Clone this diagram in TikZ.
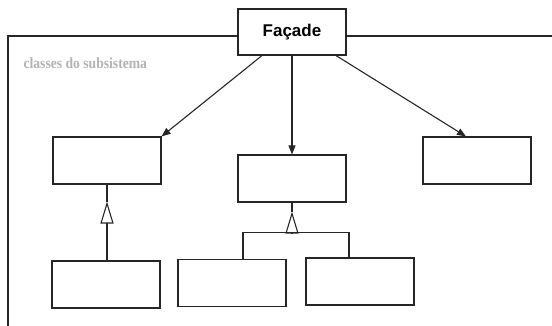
\documentclass[tikz,border=0pt]{standalone}
\usepackage{fontspec}
\setmainfont{Liberation Serif}
\newfontfamily\boxfont{Liberation Sans}
\newfontfamily\pkgfont[FakeStretch=0.88]{Liberation Serif}
\usetikzlibrary{arrows.meta,calc,positioning}

\tikzset{
  klass/.style={draw=black!85,line width=1.1pt,fill=white,minimum width=108pt,minimum height=47pt,inner sep=0pt},
  link/.style={draw=black!85,line width=1.1pt},
  assoc/.style={link,-{Triangle[length=9pt,width=7pt]}},
  gen/.style={link,-{Triangle[open,length=22pt,width=13pt]}}
}

\begin{document}
\begin{tikzpicture}[x=1pt,y=-1pt]
  \useasboundingbox (0,0) rectangle (552,326);
  % facade and package frame
  \node[klass,minimum height=46pt,font=\boxfont\bfseries\fontsize{17}{17}\selectfont] (facade) at (292,32) {Façade};
  \coordinate (frameTL) at (8,36);
  \draw[link] (facade.west |- frameTL) -- (frameTL) -- (8,326);
  \draw[link] (facade.east |- frameTL) -- (552,36);
  \node[anchor=west,text=black!30,font=\pkgfont\bfseries\fontsize{15.5}{15.5}\selectfont] (pkglabel) at (20,63) {classes do subsistema};
  % subsystem classes
  \node[klass] (sub1) at (107,160.5) {};
  \node[klass] (sub2) at (292,178.5) {};
  \node[klass] (sub3) at (477,160.5) {};
  \node[klass] (sub4) at (106,284.5) {};
  \node[klass] (sub5) at (232,283) {};
  \node[klass] (sub6) at (360,281.5) {};
  % associations from the facade
  \draw[assoc] ($(facade.south)+(-30,0)$) -- (sub1.north east);
  \draw[assoc] (facade.south) -- (sub2.north);
  \draw[assoc] ($(facade.south)+(44,0)$) -- ($(sub3.north)+(-11,0)$);
  % generalisation, left
  \coordinate (tip1) at ($(sub1.south)+(0,17)$);
  \draw[link] (sub1.south) -- (tip1);
  \draw[gen] (sub4.north -| tip1) -- (tip1);
  % generalisation, middle
  \coordinate (tip2) at ($(sub2.south)+(0,9)$);
  \coordinate (bar) at ($(tip2)+(0,21)$);
  \coordinate (j5) at ($(sub5.north)+(11,0)$);
  \coordinate (j6) at ($(sub6.north)+(-11,0)$);
  \draw[link] (j5) |- (j6 |- bar) -- (j6);
  \draw[link] (sub2.south) -- (tip2);
  \draw[gen] (bar) -- (tip2);
\end{tikzpicture}
\end{document}
